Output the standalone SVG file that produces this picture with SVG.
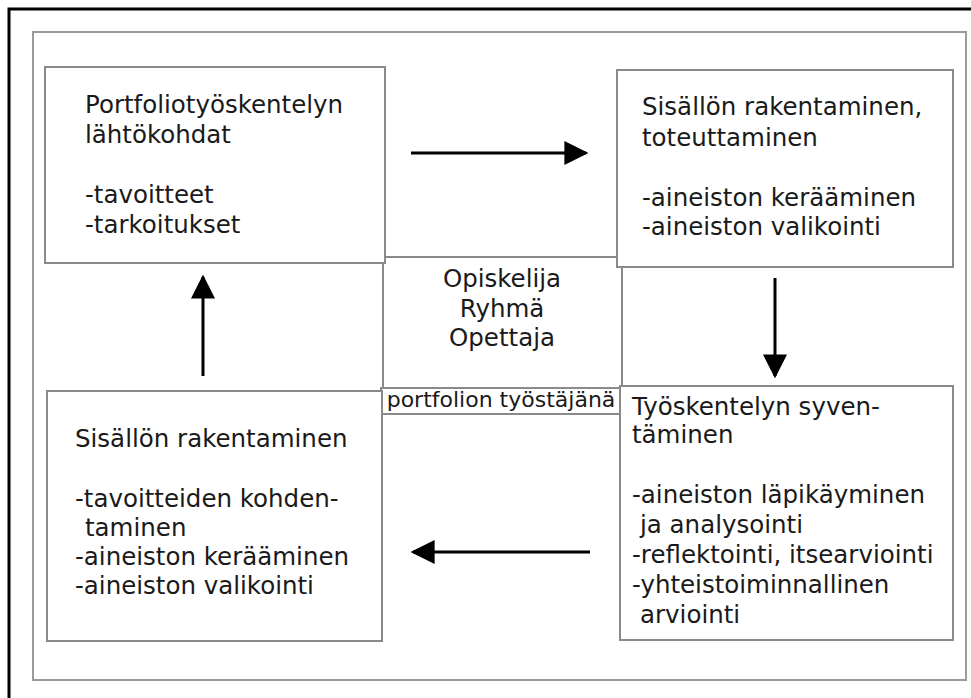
<svg xmlns="http://www.w3.org/2000/svg" width="971" height="698" viewBox="0 0 971 698">
<defs>
<style>
.frame{fill:none;stroke:#000;stroke-width:3}
.outer{fill:none;stroke:#9a9a9a;stroke-width:2}
.box{fill:#fff;stroke:#8a8a8a;stroke-width:2}
.t{font-family:"DejaVu Sans",Verdana,sans-serif;font-size:24.5px;fill:#1a1a1a}
.s{font-family:"DejaVu Sans",Verdana,sans-serif;font-size:22px;fill:#1a1a1a}
.c{text-anchor:middle}
.arr{stroke:#000;stroke-width:3;fill:none;marker-end:url(#ah)}
</style>
<marker id="ah" viewBox="0 0 10 10" refX="9" refY="5" markerWidth="8" markerHeight="8" markerUnits="strokeWidth" orient="auto">
<path d="M0,0 L10,5 L0,10 Z" fill="#000"/>
</marker>
</defs>
<rect x="0" y="0" width="971" height="698" fill="#fff"/>
<path class="frame" d="M9,700 V9 H975"/>
<rect class="outer" x="33" y="32" width="933" height="648"/>
<g id="center">
<rect class="box" x="383" y="257" width="239" height="156"/>
<text class="t c" x="502" y="287">Opiskelija</text>
<text class="t c" x="502" y="317">Ryhmä</text>
<text class="t c" x="502" y="346">Opettaja</text>
</g>
<g id="box1">
<rect class="box" x="45" y="67" width="340" height="196"/>
<text class="t" x="85" y="113">Portfoliotyöskentelyn</text>
<text class="t" x="85" y="143">lähtökohdat</text>
<text class="t" x="85" y="203">-tavoitteet</text>
<text class="t" x="85" y="233">-tarkoitukset</text>
</g>
<g id="box2">
<rect class="box" x="617" y="70" width="336" height="197"/>
<text class="t" x="642" y="115">Sisällön rakentaminen,</text>
<text class="t" x="642" y="146">toteuttaminen</text>
<text class="t" x="642" y="206">-aineiston kerääminen</text>
<text class="t" x="642" y="235">-aineiston valikointi</text>
</g>
<g id="label">
<rect class="box" x="381" y="388" width="239" height="26"/>
<text class="s c" x="501" y="407">portfolion työstäjänä</text>
</g>
<g id="box3">
<rect class="box" x="620" y="386" width="333" height="254"/>
<text class="t" x="632" y="415">Työskentelyn syven-</text>
<text class="t" x="632" y="443">täminen</text>
<text class="t" x="632" y="503">-aineiston läpikäyminen</text>
<text class="t" x="640" y="533">ja analysointi</text>
<text class="t" x="632" y="563">-reflektointi, itsearviointi</text>
<text class="t" x="632" y="593">-yhteistoiminnallinen</text>
<text class="t" x="640" y="623">arviointi</text>
</g>
<g id="box4">
<rect class="box" x="47" y="391" width="335" height="250"/>
<text class="t" x="75" y="447">Sisällön rakentaminen</text>
<text class="t" x="75" y="507">-tavoitteiden kohden-</text>
<text class="t" x="85" y="536">taminen</text>
<text class="t" x="75" y="565">-aineiston kerääminen</text>
<text class="t" x="75" y="594">-aineiston valikointi</text>
</g>
<g id="connectors">
<line class="arr" x1="411" y1="153" x2="586" y2="153"/>
<line class="arr" x1="775" y1="278" x2="775" y2="376"/>
<line class="arr" x1="590" y1="552" x2="413" y2="552"/>
<line class="arr" x1="203" y1="376" x2="203" y2="277"/>
</g>
</svg>
